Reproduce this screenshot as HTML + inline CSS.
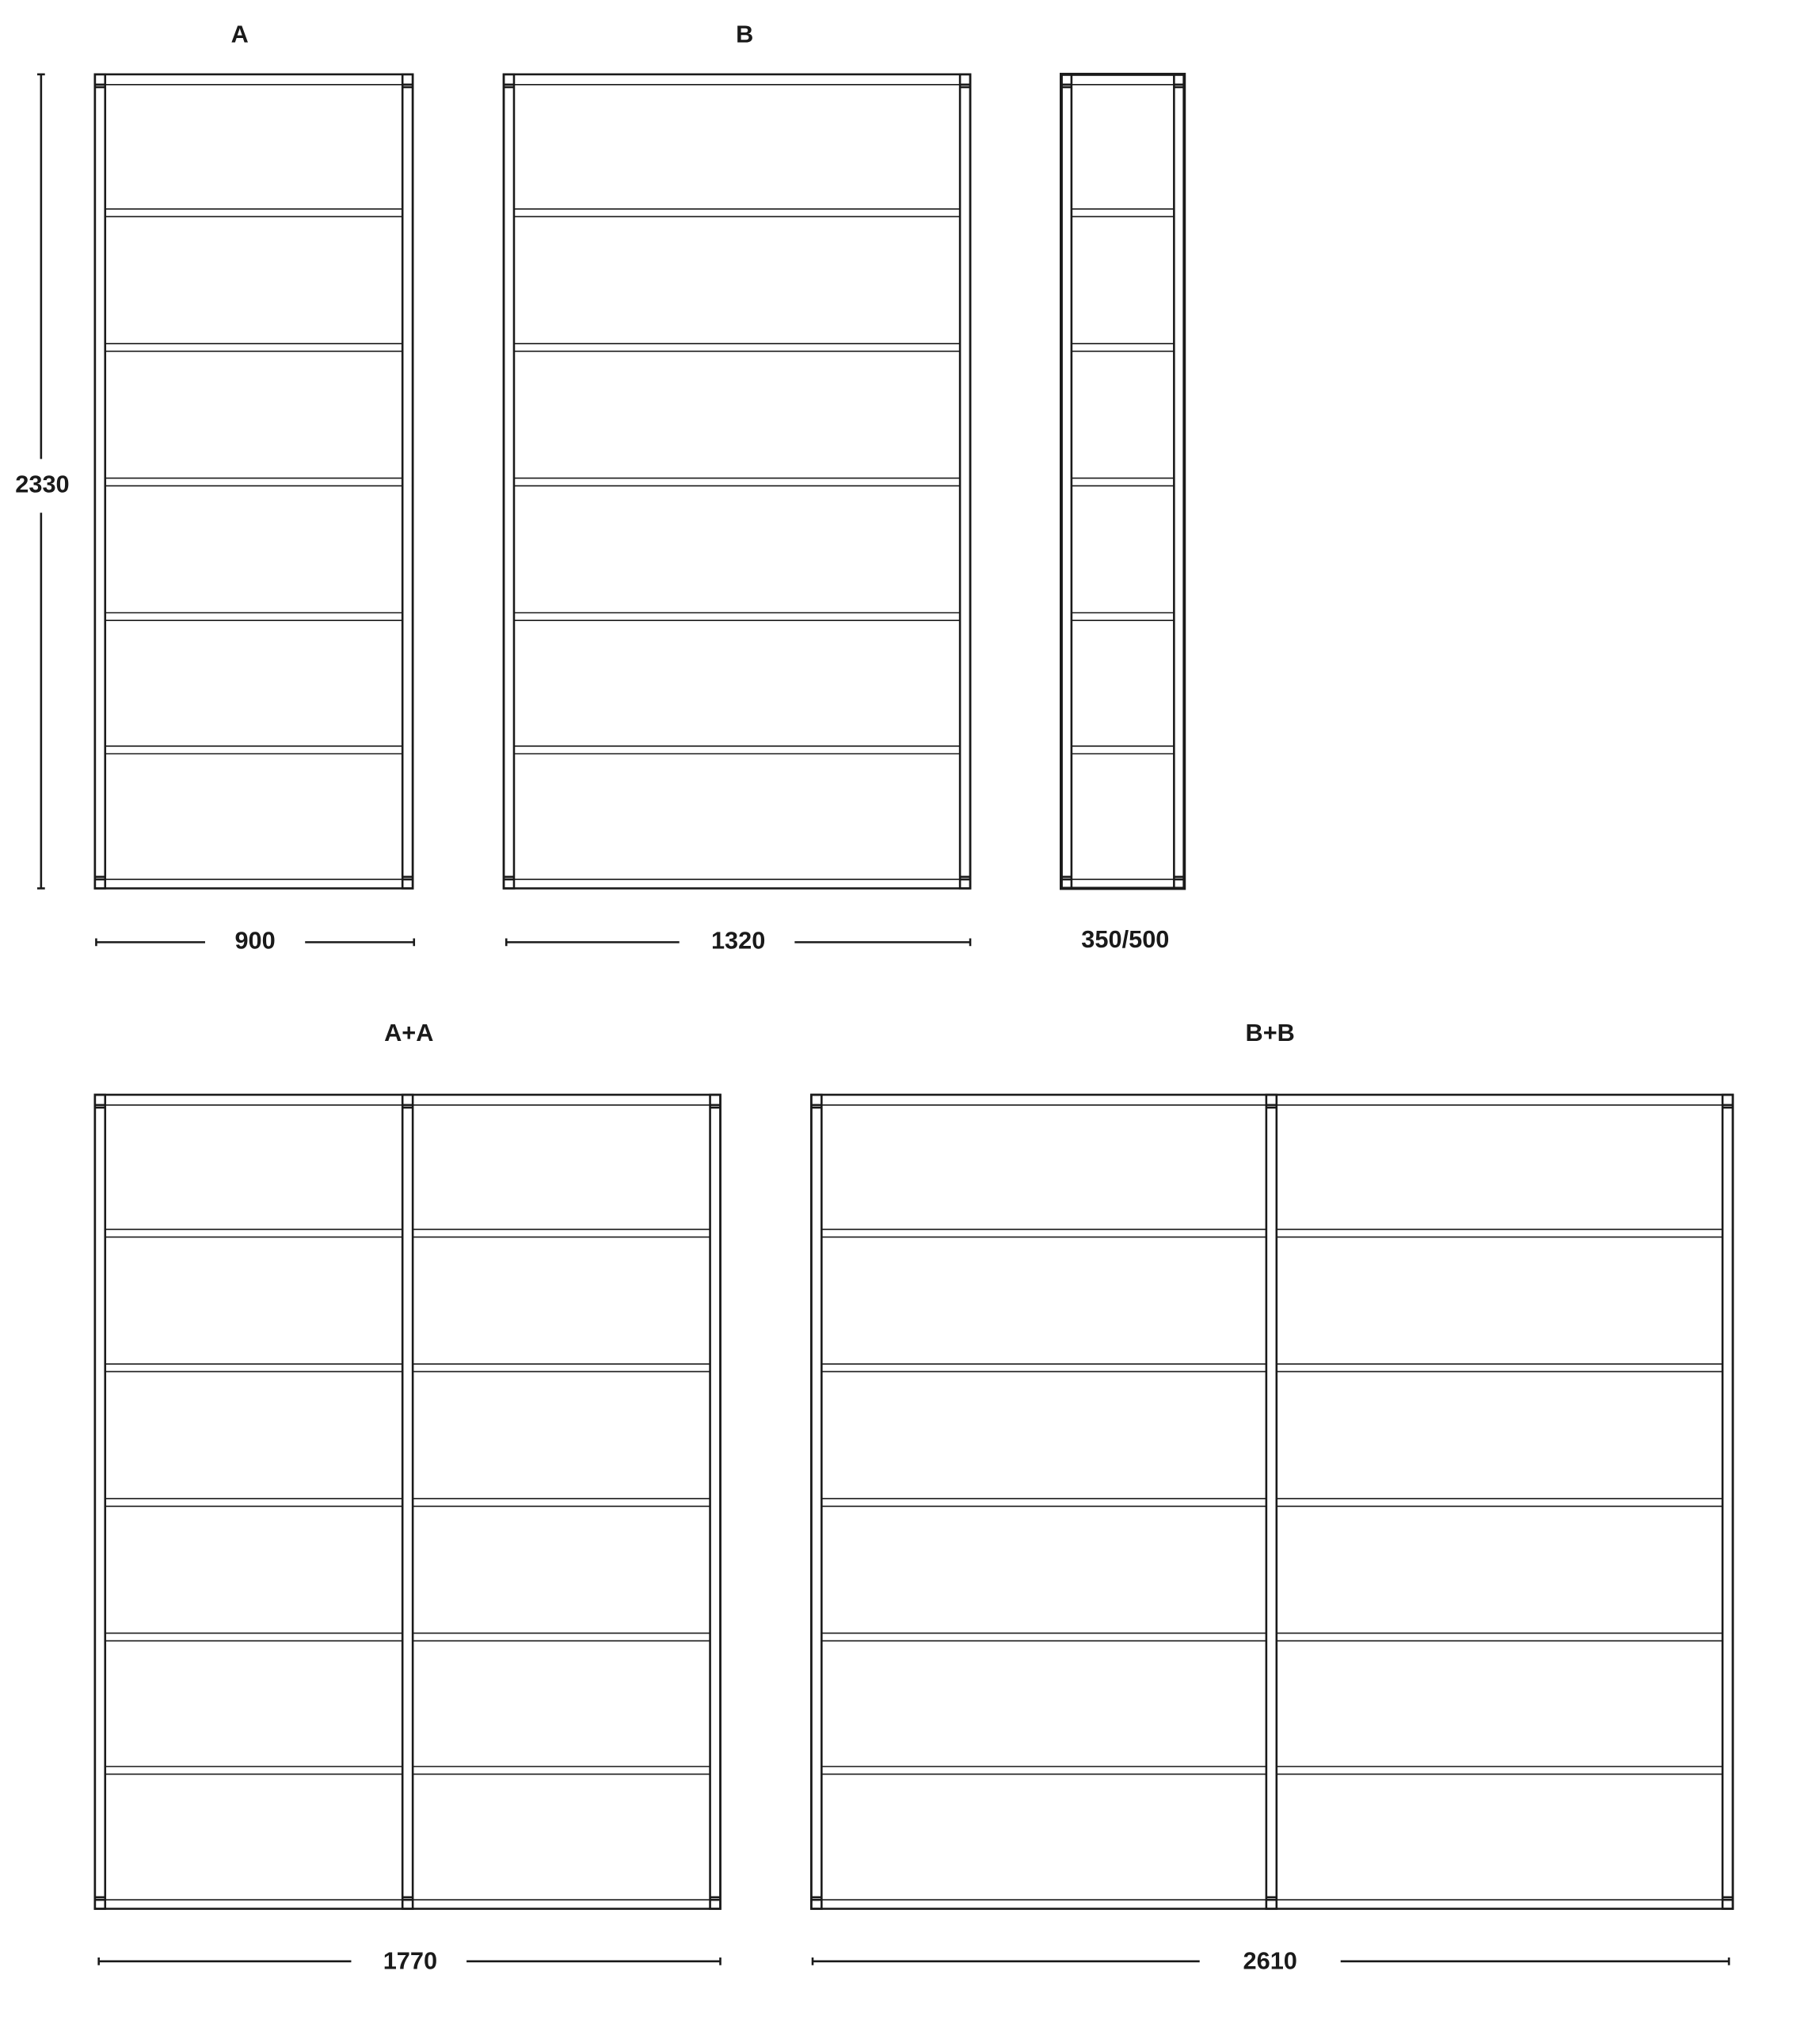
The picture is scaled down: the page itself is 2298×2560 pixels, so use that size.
<!DOCTYPE html>
<html><head><style>
html,body{margin:0;padding:0;background:#fff;}
svg{display:block;}
text{font-family:"Liberation Sans",sans-serif;font-weight:bold;font-size:19px;fill:#1a1a1a;text-anchor:middle;}
line,rect{stroke:#1a1a1a;stroke-width:1.6;fill:none;}
</style></head><body>
<svg width="2298" height="2560" viewBox="0 0 1420 1582" xmlns="http://www.w3.org/2000/svg">
<defs>
<g id="sh">
<line x1="0" y1="66" x2="1" y2="66" vector-effect="non-scaling-stroke"/>
<line x1="0" y1="163" x2="1" y2="163" vector-effect="non-scaling-stroke"/>
<line x1="0" y1="169" x2="1" y2="169" vector-effect="non-scaling-stroke"/>
<line x1="0" y1="268" x2="1" y2="268" vector-effect="non-scaling-stroke"/>
<line x1="0" y1="274" x2="1" y2="274" vector-effect="non-scaling-stroke"/>
<line x1="0" y1="373" x2="1" y2="373" vector-effect="non-scaling-stroke"/>
<line x1="0" y1="379" x2="1" y2="379" vector-effect="non-scaling-stroke"/>
<line x1="0" y1="478" x2="1" y2="478" vector-effect="non-scaling-stroke"/>
<line x1="0" y1="484" x2="1" y2="484" vector-effect="non-scaling-stroke"/>
<line x1="0" y1="582" x2="1" y2="582" vector-effect="non-scaling-stroke"/>
<line x1="0" y1="588" x2="1" y2="588" vector-effect="non-scaling-stroke"/>
<line x1="0" y1="686" x2="1" y2="686" vector-effect="non-scaling-stroke"/>
</g>
<g id="post">
<rect x="0" y="58" width="8" height="635"/>
<line x1="0" y1="66" x2="8" y2="66"/>
<line x1="0" y1="68" x2="8" y2="68"/>
<line x1="0" y1="684" x2="8" y2="684"/>
<line x1="0" y1="686" x2="8" y2="686"/>
</g>
</defs>

<text x="187" y="33">A</text>
<text x="581" y="33">B</text>
<text x="33" y="384">2330</text>
<line x1="32" y1="58" x2="32" y2="358"/><line x1="32" y1="400" x2="32" y2="693"/>
<line x1="29" y1="58" x2="35" y2="58"/><line x1="29" y1="693" x2="35" y2="693"/>

<rect x="74" y="58" width="248" height="635"/>
<use href="#post" x="74"/><use href="#post" x="314"/>
<use href="#sh" transform="translate(82,0) scale(232,1)"/>

<rect x="393" y="58" width="364" height="635"/>
<use href="#post" x="393"/><use href="#post" x="749"/>
<use href="#sh" transform="translate(401,0) scale(348,1)"/>

<g style="stroke-width:2.4">
<rect x="828" y="58" width="96" height="635" style="stroke-width:2.4"/>
<use href="#post" x="828" style="stroke-width:2.4"/><use href="#post" x="916" style="stroke-width:2.4"/>
</g>
<use href="#sh" transform="translate(836,0) scale(80,1)"/>

<text x="199" y="740">900</text>
<line x1="75" y1="735" x2="160" y2="735"/><line x1="238" y1="735" x2="323" y2="735"/>
<line x1="75" y1="732" x2="75" y2="738"/><line x1="323" y1="732" x2="323" y2="738"/>
<text x="576" y="740">1320</text>
<line x1="395" y1="735" x2="530" y2="735"/><line x1="620" y1="735" x2="757" y2="735"/>
<line x1="395" y1="732" x2="395" y2="738"/><line x1="757" y1="732" x2="757" y2="738"/>
<text x="878" y="739">350/500</text>

<text x="319" y="812">A+A</text>
<text x="991" y="812">B+B</text>
<g transform="translate(0,796)">
<rect x="74" y="58" width="488" height="635"/>
<use href="#post" x="74"/><use href="#post" x="314"/><use href="#post" x="554"/>
<use href="#sh" transform="translate(82,0) scale(232,1)"/>
<use href="#sh" transform="translate(322,0) scale(232,1)"/>

<rect x="633" y="58" width="719" height="635"/>
<use href="#post" x="633"/><use href="#post" x="988"/><use href="#post" x="1344"/>
<use href="#sh" transform="translate(641,0) scale(347,1)"/>
<use href="#sh" transform="translate(996,0) scale(348,1)"/>
</g>

<text x="320" y="1536">1770</text>
<line x1="77" y1="1530" x2="274" y2="1530"/><line x1="364" y1="1530" x2="562" y2="1530"/>
<line x1="77" y1="1527" x2="77" y2="1533"/><line x1="562" y1="1527" x2="562" y2="1533"/>
<text x="991" y="1536">2610</text>
<line x1="634" y1="1530" x2="936" y2="1530"/><line x1="1046" y1="1530" x2="1349" y2="1530"/>
<line x1="634" y1="1527" x2="634" y2="1533"/><line x1="1349" y1="1527" x2="1349" y2="1533"/>
</svg>
</body></html>
